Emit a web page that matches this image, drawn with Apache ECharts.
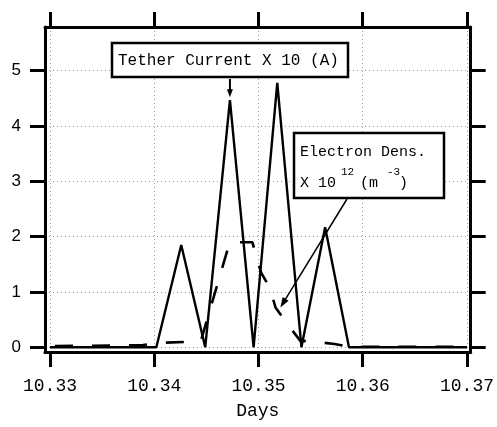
<!DOCTYPE html>
<html>
<head>
<meta charset="utf-8">
<script src="https://cdn.jsdelivr.net/npm/echarts@6/dist/echarts.min.js"></script>
<style>
  html, body { margin: 0; padding: 0; background: #fff; }
  #chart { width: 497px; height: 427px; }
</style>
</head>
<body>
<div id="chart"></div>
<script>
// Tick positions
const xTicks = [10.33, 10.34, 10.35, 10.36, 10.37];
const yTicks = [0, 1, 2, 3, 4, 5];

// Tether current (x10, A) against time in days
const currentDays = [10.3300, 10.3402, 10.34259, 10.34489, 10.34726, 10.34953, 10.3518, 10.35412, 10.35639, 10.35868, 10.3700];
const currentVals = [0.00, 0.00, 1.85, 0.00, 4.47, 0.00, 4.78, 0.00, 2.17, 0.00, 0.00];

// Electron density (x 1e12 m^-3) against time in days
const densDays = [10.3300, 10.3389, 10.3405, 10.3433, 10.34448, 10.34724, 10.34941, 10.35025, 10.3511, 10.35163, 10.35265, 10.3540, 10.3554, 10.3573, 10.3587, 10.3700];
const densVals = [0.02, 0.04, 0.08, 0.10, 0.12, 1.90, 1.90, 1.35, 1.07, 0.72, 0.45, 0.12, 0.10, 0.06, 0.01, 0.01];

// Points the two callout arrows point at
const currentNoteTarget = [10.34726, 4.50];
const densNoteTarget = [10.3521, 0.72];

const X_MIN = 10.32952, X_MAX = 10.37035;
const Y_MIN = -0.085, Y_MAX = 5.79;

const MONO = 'Liberation Mono';
const SANS = 'Liberation Sans';

function zip(a, b) { return a.map((v, i) => [v, b[i]]); }

const frameLine = { lineStyle: { color: '#000', width: 3 } };
const gridLine = { show: true, lineStyle: { color: '#999', width: 1, type: [1, 3] } };

function xAxisDef(pos, main) {
  return {
    type: 'value', position: pos, min: X_MIN, max: X_MAX,
    axisLine: Object.assign({ show: true, onZero: false }, frameLine),
    axisTick: { show: true, customValues: xTicks, length: 15, lineStyle: { color: '#000', width: 3 } },
    axisLabel: {
      show: main, customValues: xTicks, formatter: v => v.toFixed(2),
      fontFamily: MONO, fontSize: 18, color: '#000', margin: 25
    },
    splitLine: main ? gridLine : { show: false },
    name: main ? 'Days' : '', nameLocation: 'middle', nameGap: 50,
    nameTextStyle: { fontFamily: MONO, fontSize: 18, color: '#000' }
  };
}

function yAxisDef(pos, main) {
  return {
    type: 'value', position: pos, min: Y_MIN, max: Y_MAX,
    axisLine: Object.assign({ show: true, onZero: false }, frameLine),
    axisTick: { show: true, customValues: yTicks, length: 15, lineStyle: { color: '#000', width: 3 } },
    axisLabel: {
      show: main, customValues: yTicks,
      fontFamily: SANS, fontSize: 17, color: '#000', margin: 24
    },
    splitLine: main ? gridLine : { show: false }
  };
}

const chart = echarts.init(document.getElementById('chart'), null, { renderer: 'canvas' });

chart.setOption({
  animation: false,
  backgroundColor: '#fff',
  grid: { left: 45, right: 25, top: 27, bottom: 75, containLabel: false },
  xAxis: [xAxisDef('bottom', true), xAxisDef('top', false)],
  yAxis: [yAxisDef('left', true), yAxisDef('right', false)],
  series: [
    {
      name: 'Electron Dens.', type: 'line', xAxisIndex: 0, yAxisIndex: 0,
      data: zip(densDays, densVals), symbol: 'none', silent: true,
      lineStyle: { color: '#000', width: 2.6, type: [18, 19], dashOffset: 32 }
    },
    {
      name: 'Tether Current', type: 'line', xAxisIndex: 0, yAxisIndex: 0,
      data: zip(currentDays, currentVals), symbol: 'none', silent: true,
      lineStyle: { color: '#000', width: 2.4 }
    }
  ]
});

// Callout arrow: shaft from a box edge to a point on the chart, with a filled head
function arrow(from, tip, shaftWidth, headLen, headWidth) {
  const dx = tip[0] - from[0], dy = tip[1] - from[1];
  const len = Math.hypot(dx, dy);
  const ux = dx / len, uy = dy / len, nx = -uy, ny = ux;
  const bx = tip[0] - ux * headLen, by = tip[1] - uy * headLen;
  return [
    { type: 'line', shape: { x1: from[0], y1: from[1], x2: bx + ux * 2, y2: by + uy * 2 },
      style: { stroke: '#000', lineWidth: shaftWidth }, z: 100 },
    { type: 'polygon', shape: { points: [
        tip,
        [bx + nx * headWidth / 2, by + ny * headWidth / 2],
        [bx - nx * headWidth / 2, by - ny * headWidth / 2]
      ] }, style: { fill: '#000' }, z: 100 }
  ];
}

const tip1 = chart.convertToPixel({ xAxisIndex: 0, yAxisIndex: 0 }, currentNoteTarget);
const tip2 = chart.convertToPixel({ xAxisIndex: 0, yAxisIndex: 0 }, densNoteTarget);

const box1 = { x: 112, y: 43, w: 236, h: 34 };
const box2 = { x: 294, y: 133, w: 150, h: 65 };

chart.setOption({
  graphic: [
    { type: 'rect', shape: { x: box1.x, y: box1.y, width: box1.w, height: box1.h },
      style: { fill: '#fff', stroke: '#000', lineWidth: 2.5 }, z: 100 },
    { type: 'text', x: box1.x + 6, y: box1.y + box1.h / 2 + 1,
      style: { text: 'Tether Current X 10 (A)', font: '16px "' + MONO + '"', fill: '#000',
               textAlign: 'left', textVerticalAlign: 'middle' }, z: 101 },
    ...arrow([tip1[0], box1.y + box1.h + 2], [tip1[0], tip1[1] - 1], 2, 8, 6),

    { type: 'rect', shape: { x: box2.x, y: box2.y, width: box2.w, height: box2.h },
      style: { fill: '#fff', stroke: '#000', lineWidth: 2.5 }, z: 100 },
    { type: 'text', x: box2.x + 6, y: box2.y + 19,
      style: { text: 'Electron Dens.', font: '15px "' + MONO + '"', fill: '#000',
               textAlign: 'left', textVerticalAlign: 'middle' }, z: 101 },
    { type: 'text', x: box2.x + 6, y: box2.y + 50,
      style: { text: 'X 10', font: '15px "' + MONO + '"', fill: '#000',
               textAlign: 'left', textVerticalAlign: 'middle' }, z: 101 },
    { type: 'text', x: box2.x + 47, y: box2.y + 39,
      style: { text: '12', font: '11px "' + MONO + '"', fill: '#000',
               textAlign: 'left', textVerticalAlign: 'middle' }, z: 101 },
    { type: 'text', x: box2.x + 66, y: box2.y + 50,
      style: { text: '(m', font: '15px "' + MONO + '"', fill: '#000',
               textAlign: 'left', textVerticalAlign: 'middle' }, z: 101 },
    { type: 'text', x: box2.x + 93, y: box2.y + 39,
      style: { text: '-3', font: '11px "' + MONO + '"', fill: '#000',
               textAlign: 'left', textVerticalAlign: 'middle' }, z: 101 },
    { type: 'text', x: box2.x + 105, y: box2.y + 50,
      style: { text: ')', font: '15px "' + MONO + '"', fill: '#000',
               textAlign: 'left', textVerticalAlign: 'middle' }, z: 101 },
    ...arrow([box2.x + 53, box2.y + box2.h + 1], tip2, 1.5, 10, 7)
  ]
});
</script>
</body>
</html>
